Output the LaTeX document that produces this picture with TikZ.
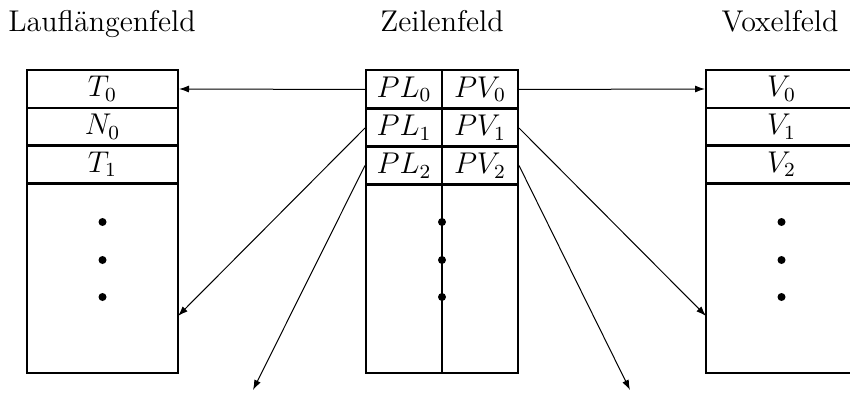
\documentclass[tikz,border=0pt]{standalone}
\usetikzlibrary{arrows.meta}

\begin{document}
\begin{tikzpicture}[
        x=0.4pt, y=-0.4pt,
        -{Latex[length=4pt,width=2.8pt]}, thin,
        cell/.style={draw, thick, -, inner sep=0pt,
                minimum width=60.4pt, minimum height=15.2pt},
        pcell/.style={cell, minimum width=30.4pt},
        title/.style={anchor=base},
        every node/.style={font=\fontsize{12}{14}\selectfont}
    ]
    \useasboundingbox (0,0) rectangle (850,392);
    \clip (0,0) rectangle (850,392);

    \node[title] (lftitle) at (102,32) {Lauflängenfeld};
    \node[title] (zftitle) at (442,32) {Zeilenfeld};
    \node[title] (vftitle) at (780,32) {Voxelfeld};

    \node[cell] (t0) at (102.5,89) {$T_0$};
    \node[cell] (n0) at (102.5,127) {$N_0$};
    \node[cell] (t1) at (102.5,164.5) {$T_1$};
    \node[cell, minimum height=76pt] (lrest) at (102.5,278) {};

    \node[pcell] (pl0) at (404,89.5) {$PL_0$};
    \node[pcell] (pl1) at (404,128) {$PL_1$};
    \node[pcell] (pl2) at (404,165.5) {$PL_2$};
    \node[pcell, minimum height=75.6pt] (plrest) at (404,278.5) {};
    \node[pcell] (pv0) at (480,89.5) {$PV_0$};
    \node[pcell] (pv1) at (480,128) {$PV_1$};
    \node[pcell] (pv2) at (480,165.5) {$PV_2$};
    \node[pcell, minimum height=75.6pt] (pvrest) at (480,278.5) {};

    \node[cell] (v0) at (781.5,89) {$V_0$};
    \node[cell] (v1) at (781.5,127) {$V_1$};
    \node[cell] (v2) at (781.5,164.5) {$V_2$};
    \node[cell, minimum height=76pt] (vrest) at (781.5,278) {};

    \foreach \y in {222,260,297} {
        \fill (102.5,\y) circle (4);
        \fill (442,\y) circle (4);
        \fill (781.5,\y) circle (4);
    }

    \coordinate (lmid) at (178,316);
    \coordinate (vmid) at (706,316);
    \coordinate (lout) at (253,390);
    \coordinate (vout) at (630,390);

    \draw (pl0.west) -- (t0.east);
    \draw (pv0.east) -- (v0.west);
    \draw (pl1.west) -- (lmid);
    \draw (pv1.east) -- (vmid);
    \draw (pl2.west) -- (lout);
    \draw (pv2.east) -- (vout);
\end{tikzpicture}
\end{document}
